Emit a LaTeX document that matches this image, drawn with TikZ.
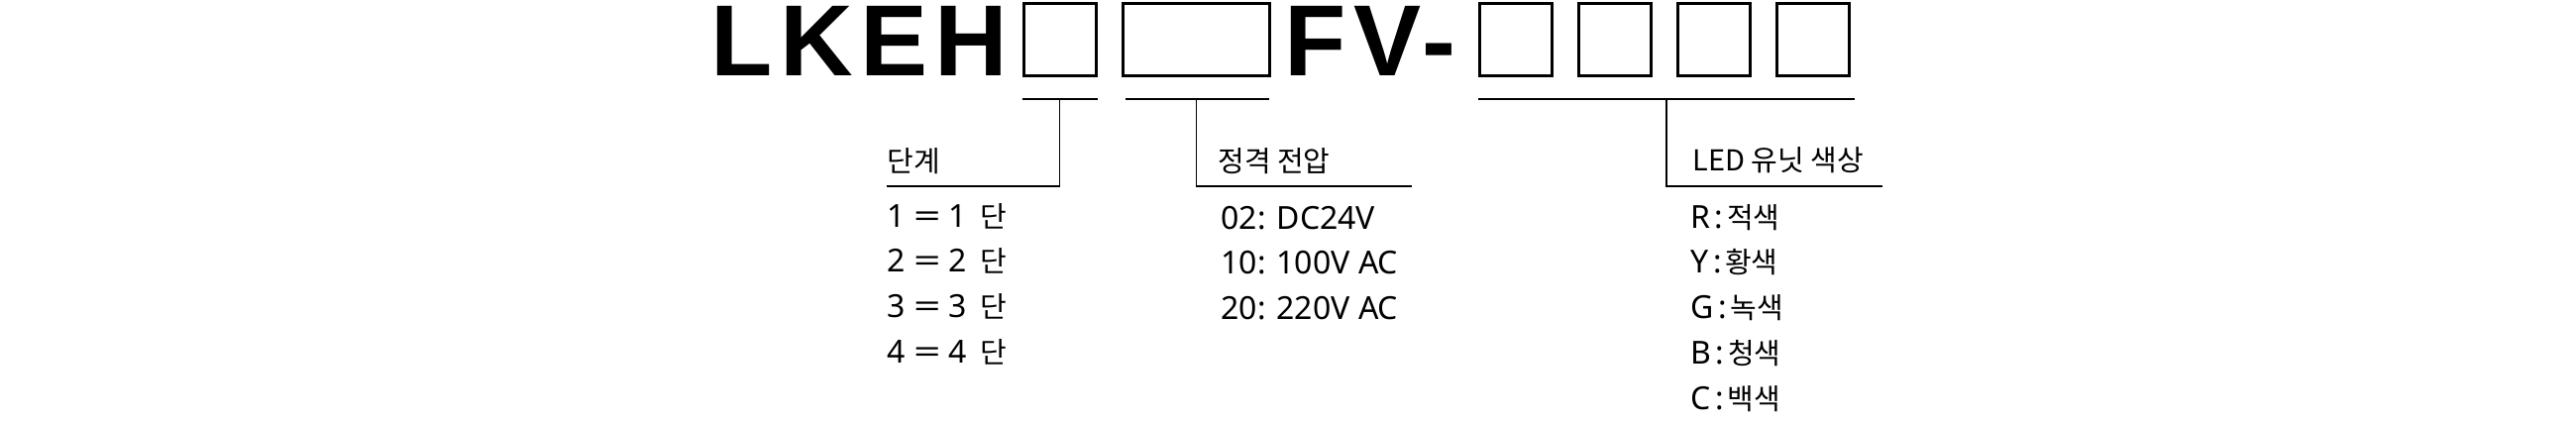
\documentclass[tikz,border=0pt]{standalone}
\usepackage{fontspec}
\usepackage{graphicx}
\setmainfont{Noto Sans}
\newfontfamily\krfont{Noto Sans CJK KR}
\newfontfamily\titlefont[LetterSpace=7]{Liberation Sans}
\usetikzlibrary{calc,positioning}
\newcommand\hangul[1]{{\krfont\fontsize{14.5pt}{17pt}\selectfont #1}}
\newcommand\eqsign{\scalebox{1.5}[1]{=}}
\newcommand\colsep{\hspace{2.3pt}:\hspace{1.8pt}}
\tikzset{
    every node/.style={inner sep=0pt},
    title node/.style={anchor=base west,font=\titlefont\bfseries\fontsize{51pt}{51pt}\selectfont},
    box node/.style={draw,line width=1.5pt,minimum width=36.5pt,minimum height=36.5pt},
    wide box/.style={box node,minimum width=74pt},
    head node/.style={anchor=base west,font=\krfont\fontsize{14.5pt}{17pt}\selectfont},
    item node/.style={anchor=base west,text height=12pt,text depth=3.5pt,font=\fontsize{16pt}{19pt}\selectfont},
    uline/.style={line width=1pt},
    leader/.style={line width=0.75pt}
}

\begin{document}
\begin{tikzpicture}[x=0.5pt,y=-0.5pt,node distance=7pt]
    \useasboundingbox (0,0) rectangle (2600,425);

    \node[title node] (t1) at (717.5,76) {LKEH};
    \node[box node] (b1) at (1069.5,39.5) {};
    \node[wide box] (b2) at (1207.5,39.5) {};
    \node[title node] (t2) at (1296.5,76) {FV-};
    \node[box node] (b3) at (1530,39.5) {};
    \node[box node] (b4) [right=12pt of b3] {};
    \node[box node] (b5) [right=12pt of b4] {};
    \node[box node] (b6) [right=12pt of b5] {};

    \draw[uline] ([yshift=-11pt]b1.south west) -- ([yshift=-11pt]b1.south east);
    \draw[uline] ([xshift=2pt,yshift=-11pt]b2.south west) -- ([xshift=-1pt,yshift=-11pt]b2.south east);
    \draw[uline] ([yshift=-11pt]b3.south west) -- ([xshift=2pt,yshift=-11pt]b6.south east);

    \coordinate (m1) at ([yshift=-11pt]b1.south);
    \coordinate (m2) at ([yshift=-11pt]b2.south);
    \coordinate (m3) at ($([yshift=-11pt]b3.south west)!0.5!([xshift=2pt,yshift=-11pt]b6.south east)$);
    \coordinate (e1) at (895,188);
    \coordinate (e2) at (1425,188);
    \coordinate (e3) at (1900,188);

    \draw[leader] (m1) |- (e1);
    \draw[leader] (m2) |- (e2);
    \draw[leader] (m3) |- (e3);

    \node[head node] (h1) at (895,173) {단계};
    \node[head node] (h2) at (1229,173) {정격 전압};
    \node[head node] (h3) at (1708,172) {LED 유닛 색상};

    \node[item node] (s1) at (895,229) {1 \eqsign{} 1\hspace{6.8pt}\hangul{단}};
    \node[item node] (s2) [below=of s1.south west,anchor=north west] {2 \eqsign{} 2\hspace{6.8pt}\hangul{단}};
    \node[item node] (s3) [below=of s2.south west,anchor=north west] {3 \eqsign{} 3\hspace{6.8pt}\hangul{단}};
    \node[item node] (s4) [below=of s3.south west,anchor=north west] {4 \eqsign{} 4\hspace{6.8pt}\hangul{단}};

    \node[item node] (v1) at (1232,231) {02: DC24V};
    \node[item node] (v2) [below=of v1.south west,anchor=north west] {10: 100V AC};
    \node[item node] (v3) [below=of v2.south west,anchor=north west] {20: 220V AC};

    \node[item node] (c1) at (1706,230) {R\colsep\hangul{적색}};
    \node[item node] (c2) [below=of c1.south west,anchor=north west] {Y\colsep\hangul{황색}};
    \node[item node] (c3) [below=of c2.south west,anchor=north west] {G\colsep\hangul{녹색}};
    \node[item node] (c4) [below=of c3.south west,anchor=north west] {B\colsep\hangul{청색}};
    \node[item node] (c5) [below=of c4.south west,anchor=north west] {C\colsep\hangul{백색}};
\end{tikzpicture}
\end{document}
